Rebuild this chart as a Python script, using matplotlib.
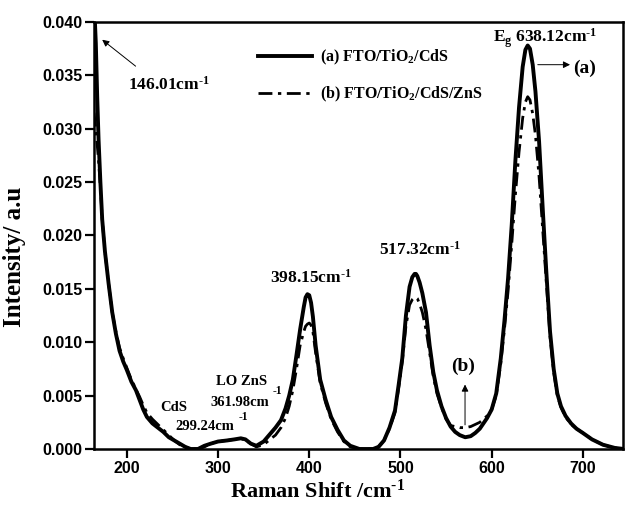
import numpy as np
import matplotlib
matplotlib.use("Agg")
import matplotlib.pyplot as plt
from matplotlib.ticker import FormatStrFormatter, MultipleLocator

# === DATA ===
shift = [164, 166, 167.5, 169, 171, 173, 176, 180, 184, 188, 192, 196, 200, 205,
         210, 214, 218, 222, 228, 234, 240, 246, 252, 258, 264, 270, 278, 285,
         292, 300, 310, 318, 325, 330, 336, 342, 350, 357, 363, 369, 374, 378,
         382, 386, 390, 394, 396, 398, 400, 402, 404, 407, 412, 418, 424, 431,
         438, 445, 455, 470, 476, 482, 488, 494, 498, 502, 506, 510, 513, 515.5,
         517, 518.5, 521, 524, 528, 532, 536, 540, 545, 550, 555, 560, 565, 571,
         577, 582, 587, 591, 595, 600, 605, 610, 614, 618, 622, 626, 630, 634,
         637, 639.5, 642, 645, 648, 652, 656, 660, 664, 668, 672, 676, 681, 687,
         693, 700, 710, 722, 735, 745]

cds = [0.0420, 0.0380, 0.0330, 0.0290, 0.0250, 0.0215, 0.0185, 0.0155, 0.0128,
       0.0108, 0.0092, 0.0082, 0.0074, 0.0063, 0.0055, 0.0046, 0.0037, 0.0030,
       0.0024, 0.0020, 0.0016, 0.0011, 0.0008, 0.0005, 0.0002, 0.0000, 0.0000,
       0.0003, 0.0005, 0.0007, 0.0008, 0.0009, 0.0010, 0.0009, 0.0005, 0.0003,
       0.0007, 0.0014, 0.0020, 0.0027, 0.0038, 0.0050, 0.0065, 0.0088, 0.0112,
       0.0133, 0.0142, 0.0145, 0.0144, 0.0137, 0.0124, 0.0097, 0.0065, 0.0046,
       0.0030, 0.0018, 0.0008, 0.0003, 0.0000, 0.0000, 0.0002, 0.0008, 0.0020,
       0.0036, 0.0060, 0.0085, 0.0125, 0.0152, 0.0161, 0.0164, 0.0164, 0.0162,
       0.0156, 0.0146, 0.0128, 0.0097, 0.0072, 0.0055, 0.0040, 0.0029, 0.0021,
       0.0016, 0.0013, 0.0011, 0.0012, 0.0015, 0.0019, 0.0024, 0.0029, 0.0037,
       0.0052, 0.0085, 0.0120, 0.0160, 0.0210, 0.0270, 0.0320, 0.0358, 0.0374,
       0.0378, 0.0375, 0.0360, 0.0335, 0.0288, 0.0225, 0.0165, 0.0110, 0.0075,
       0.0052, 0.0040, 0.0031, 0.0024, 0.0019, 0.0015, 0.0009, 0.0004, 0.0001,
       0.0000]

cds_zns = [0.0315, 0.0300, 0.0285, 0.0270, 0.0245, 0.0215, 0.0185, 0.0155, 0.0128,
           0.0110, 0.0095, 0.0085, 0.0076, 0.0065, 0.0056, 0.0049, 0.0041, 0.0034,
           0.0028, 0.0023, 0.0018, 0.0013, 0.0008, 0.0004, 0.0002, 0.0000, 0.0000,
           0.0002, 0.0005, 0.0007, 0.0008, 0.0009, 0.0010, 0.0008, 0.0005, 0.0002,
           0.0004, 0.0009, 0.0013, 0.0020, 0.0029, 0.0040, 0.0055, 0.0075, 0.0097,
           0.0110, 0.0115, 0.0117, 0.0118, 0.0116, 0.0110, 0.0090, 0.0062, 0.0043,
           0.0028, 0.0016, 0.0007, 0.0002, 0.0000, 0.0000, 0.0002, 0.0008, 0.0019,
           0.0034, 0.0057, 0.0082, 0.0115, 0.0135, 0.0140, 0.0142, 0.0142, 0.0141,
           0.0136, 0.0128, 0.0112, 0.0090, 0.0068, 0.0052, 0.0039, 0.0028, 0.0022,
           0.0021, 0.0020, 0.0020, 0.0021, 0.0023, 0.0025, 0.0028, 0.0031, 0.0037,
           0.0050, 0.0080, 0.0112, 0.0148, 0.0192, 0.0238, 0.0278, 0.0310, 0.0325,
           0.0330, 0.0327, 0.0314, 0.0294, 0.0255, 0.0205, 0.0155, 0.0105, 0.0072,
           0.0050, 0.0039, 0.0030, 0.0023, 0.0019, 0.0015, 0.0009, 0.0004, 0.0001,
           0.0000]

labels = ["(a) FTO/TiO$_2$/CdS", "(b) FTO/TiO$_2$/CdS/ZnS"]
sup = r"$^{\text{-}1}$"

# === STYLE ===
plt.rcParams["font.family"] = ["Liberation Serif", "DejaVu Serif"]
plt.rcParams["font.weight"] = "bold"
plt.rcParams["axes.labelweight"] = "bold"
plt.rcParams["mathtext.fontset"] = "custom"
plt.rcParams["mathtext.rm"] = "Liberation Serif:bold"
plt.rcParams["mathtext.it"] = "Liberation Serif:bold:italic"
plt.rcParams["mathtext.bf"] = "Liberation Serif:bold"
plt.rcParams["mathtext.default"] = "rm"

fig = plt.figure(figsize=(6.25, 5.09), dpi=100)
ax = fig.add_axes([0.1504, 0.1179, 0.8464, 0.8389])

ax.plot(shift, cds, color="black", lw=2.8, solid_joinstyle="round", label=labels[0])
ax.plot(shift, cds_zns, color="black", lw=2.0, dashes=(5, 2, 1.2, 2), label=labels[1])

ax.set_xlim(164, 744)
ax.set_ylim(0, 0.040)
ax.xaxis.set_major_locator(MultipleLocator(100))
ax.yaxis.set_major_locator(MultipleLocator(0.005))
ax.yaxis.set_major_formatter(FormatStrFormatter("%.3f"))

for s in ax.spines.values():
    s.set_linewidth(1.8)
ax.tick_params(direction="out", length=6.5, width=1.6, pad=2, top=False, right=False)
for t in ax.get_xticklabels() + ax.get_yticklabels():
    t.set_fontfamily("Liberation Sans")
    t.set_fontweight("bold")
    t.set_fontsize(11.5)

ax.set_xlabel("Raman Shift /cm" + sup, fontsize=16, fontweight="bold")
ax.xaxis.set_label_coords(0.423, -0.072)
ax.set_ylabel("Intensity/ a.u", fontsize=18, fontweight="bold")
ax.yaxis.set_label_coords(-0.128, 0.45)

ax.legend(loc="upper left", bbox_to_anchor=(0.31, 0.94), frameon=False,
          fontsize=11.5, handlelength=3.4, handletextpad=0.5, labelspacing=1.15,
          borderpad=0, borderaxespad=0)

# === ANNOTATIONS ===
arrow = dict(arrowstyle="-|>", color="black", lw=0.7, mutation_scale=10)
ax.annotate("", xy=(170.6, 0.0385), xytext=(212, 0.0357), arrowprops=arrow)
ax.text(201.3, 0.0341, "146.01cm" + sup, fontsize=12.5, ha="left", va="center")

ax.text(601.5, 0.0385, "E$_g$ 638.12cm" + sup, fontsize=12.5, ha="left", va="center")
ax.annotate("", xy=(689, 0.0360), xytext=(647.5, 0.0360), arrowprops=arrow)
ax.text(689.5, 0.0357, "(a)", fontsize=14, ha="left", va="center")

ax.text(521.5, 0.0187, "517.32cm" + sup, fontsize=12.5, ha="center", va="center")
ax.text(402, 0.0160, "398.15cm" + sup, fontsize=12.5, ha="center", va="center")

ax.text(326.3, 0.0063, "LO ZnS", fontsize=10.5, ha="center", va="center")
ax.text(323.5, 0.0044, "361.98cm", fontsize=10.5, ha="center", va="center")
ax.text(364.6, 0.0054, "-1", fontsize=8.5, ha="center", va="center")
ax.text(251.5, 0.0039, "CdS", fontsize=10.5, ha="center", va="center")
ax.text(285, 0.0021, "299.24cm", fontsize=10.5, ha="center", va="center")
ax.text(327.4, 0.0030, "-1", fontsize=8.5, ha="center", va="center")

ax.annotate("", xy=(570.8, 0.0063), xytext=(570.8, 0.0020), arrowprops=arrow)
ax.text(568.6, 0.0077, "(b)", fontsize=14, ha="center", va="center")

fig.savefig("out.png", dpi=100)
